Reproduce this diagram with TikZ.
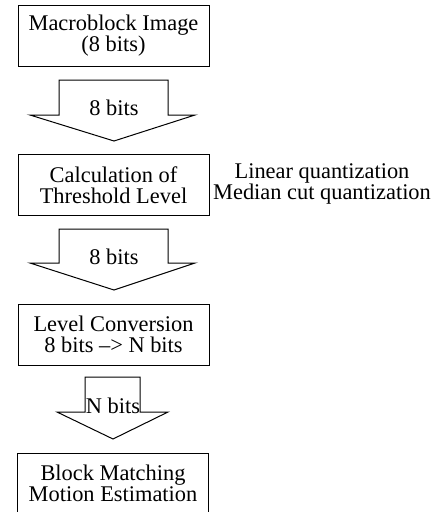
\documentclass[tikz,border=0pt]{standalone}
\usepackage{fontspec}
\setmainfont{Liberation Serif}
\usepackage{tikz}

\begin{document}
\begin{tikzpicture}[x = 1pt, y = 1pt, line width = 1pt,
                        block/.style = {rectangle, draw, minimum width = 191pt, minimum height = 61pt, align = center, inner sep = 0pt},
                        txt/.style = {align = center, inner sep = 0pt}]
      \useasboundingbox (0, 0) rectangle (437, -512);
      \fontsize{22.4}{21}\selectfont
      \node [block] (img) at (113.5, -35.5){Macroblock Image\\(8 bits)};
      \node [block] (thr) at (113.5, -185){Calculation of\\Threshold Level};
      \node [block] (conv) at (113.5, -334.5){Level Conversion\\8 bits --> N bits};
      \node [block] (match) at (113, -483.5){Block Matching\\Motion Estimation};
      \node [txt] (quant) at (322, -184){Linear quantization\\Median cut quantization};
      \draw (59, -80) -- (168, -80) -- (168, -115) -- (195, -115) -- (114, -141)
            -- (30, -115) -- (59, -115) -- cycle;
      \draw (59, -229) -- (168, -229) -- (168, -263) -- (195, -263) -- (114, -290)
            -- (30, -263) -- (59, -263) -- cycle;
      \draw (85, -377) -- (140, -377) -- (140, -412) -- (168, -412) -- (113, -439)
            -- (57, -412) -- (85, -412) -- cycle;
      \node [txt] (b1) at (114, -107.5){8 bits};
      \node [txt] (b2) at (114, -256.5){8 bits};
      \node [txt] (b3) at (113, -405.5){N bits};
    \end{tikzpicture}
\end{document}
